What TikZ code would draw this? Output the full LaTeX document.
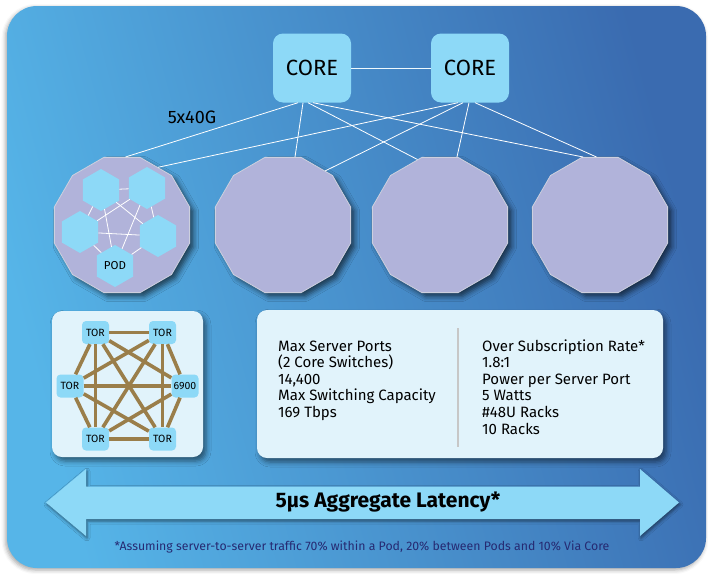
\documentclass[tikz,border=0pt]{standalone}
\usepackage{fontspec}
\setmainfont{Fira Sans}
\usetikzlibrary{shapes.geometric, shadows.blur}
\definecolor{SkyLight}{HTML}{56B5E8}
\definecolor{SkyDark}{HTML}{3A6BB0}
\definecolor{IceBlue}{HTML}{8DD9F7}
\definecolor{Lavender}{HTML}{B1B3DA}
\definecolor{LavEdge}{HTML}{CDD0DE}
\definecolor{PanelFill}{HTML}{E1F3FB}
\definecolor{LinkBrown}{HTML}{9A7E4A}
\definecolor{NoteNavy}{HTML}{262A72}

\begin{document}
\begin{tikzpicture}[x=1pt, y=-1pt,
    core/.style={rectangle, rounded corners=10pt, fill=IceBlue, minimum width=78, minimum height=69, font=\fontsize{22}{24}\selectfont},
    pod/.style={regular polygon, regular polygon sides=12, minimum size=140, inner sep=0pt, fill=Lavender, draw=LavEdge, line width=0.8pt,
        blur shadow={shadow xshift=4pt, shadow yshift=-4pt, shadow blur radius=5pt, shadow opacity=60}},
    hexa/.style={regular polygon, regular polygon sides=6, shape border rotate=30, minimum size=42, inner sep=0pt, fill=IceBlue, font=\fontsize{11.5}{13}\selectfont},
    tor/.style={rectangle, rounded corners=4pt, fill=IceBlue, minimum width=27, minimum height=23, inner sep=0pt, font=\fontsize{10.5}{12}\selectfont},
    panel/.style={rectangle, rounded corners=10pt, fill=PanelFill,
        blur shadow={shadow xshift=3pt, shadow yshift=-4pt, shadow blur radius=5pt, shadow opacity=50}},
    uplink/.style={white, line width=0.8pt},
    mesh/.style={LinkBrown, line width=3.6pt},
    facts/.style={align=left, inner sep=0pt, anchor=base west, font=\fontsize{15}{16.6}\selectfont}
]
    \useasboundingbox (0,0) rectangle (708,573);

    % Fondo
    \shade[rounded corners=30pt, left color=SkyLight, right color=SkyDark, shading angle=105,
        blur shadow={shadow xshift=-1.5pt, shadow yshift=-2pt, shadow blur radius=4pt, shadow opacity=35}]
        (7,6) rectangle (706,568);

    % Core
    \node[core] (core1) at (312,68) {CORE};
    \node[core] (core2) at (470,68) {CORE};
    \draw[white!85!IceBlue, line width=1pt] (core1) -- (core2);
    \node[font=\fontsize{18}{20}\selectfont] (lbl40g) at (192,117) {5x40G};

    % Pods
    \foreach \i/\x in {1/122, 2/283, 3/440, 4/600}
        \node[pod] (pod\i) at (\x,225) {};
    \draw[uplink] ([xshift=-14pt]core1.south) -- (pod1.87);
    \draw[uplink] ([xshift=-9pt]core1.south) -- (pod2.80);
    \draw[uplink] ([xshift=-4pt]core1.south) -- (pod3.109);
    \draw[uplink] ([xshift=1pt]core1.south) -- (pod4.104);
    \draw[uplink] ([xshift=-12pt]core2.south) -- (pod1.58);
    \draw[uplink] ([xshift=-7pt]core2.south) -- (pod2.52);
    \draw[uplink] ([xshift=-1pt]core2.south) -- (pod3.76);
    \draw[uplink] ([xshift=5pt]core2.south) -- (pod4.93);

    % Hexagonos del primer pod
    \node[hexa] (h1) at (101,190) {};
    \node[hexa] (h2) at (147,188) {};
    \node[hexa] (h3) at (80,232) {};
    \node[hexa] (h4) at (158,236) {};
    \node[hexa] (h5) at (115,266) {POD};
    \foreach \a/\b in {h1/h2, h1/h3, h1/h4, h1/h5, h2/h3, h2/h4, h2/h5, h3/h4, h3/h5, h4/h5}
        \draw[uplink] (\a) -- (\b);

    % Malla de TOR
    \node[panel, minimum width=151, minimum height=146] (torbox) at (127.5,384) {};
    \node[tor] (tl) at (95.5,332.5) {TOR};
    \node[tor] (tr) at (162.5,332.5) {TOR};
    \node[tor] (ml) at (70,386) {TOR};
    \node[tor] (mr) at (185,386) {6900};
    \node[tor] (bl) at (95.5,439) {TOR};
    \node[tor] (br) at (162.5,439) {TOR};
    \foreach \a/\b in {tl/tr, tl/ml, tl/mr, tl/bl, tl/br, tr/ml, tr/mr, tr/bl, tr/br, ml/mr, ml/bl, ml/br, mr/bl, mr/br, bl/br}
        \draw[mesh] (\a) -- (\b);

    % Datos
    \node[panel, minimum width=406, minimum height=148] (infobox) at (460,384) {};
    \draw[black!22, line width=1.6pt] (458,328) -- (458,447);
    \node[facts] (ports) at (278,417.4) {Max Server Ports\\(2 Core Switches)\\14,400\\Max Switching Capacity\\169 Tbps};
    \node[facts] (rates) at (482,434) {Over Subscription Rate*\\1.8:1\\Power per Server Port\\5 Watts\\\#48U Racks\\10 Racks};

    % Latencia
    \fill[IceBlue, blur shadow={shadow xshift=1pt, shadow yshift=-2pt, shadow blur radius=3pt, shadow opacity=50}]
        (46,502.5) -- (86,469) -- (86,486.5) -- (640,486.5) -- (640,469) -- (679,502.5)
        -- (640,536) -- (640,519) -- (86,519) -- (86,536) -- cycle;
    \node[font=\fontsize{21}{23}\selectfont\bfseries] (latency) at (388,502.5) {5µs Aggregate Latency*};
    \node[text=NoteNavy, font=\fontsize{12.3}{14}\selectfont] (footnote) at (362,547) {*Assuming server-to-server traffic 70\% within a Pod, 20\% between Pods and 10\% Via Core};
\end{tikzpicture}
\end{document}
